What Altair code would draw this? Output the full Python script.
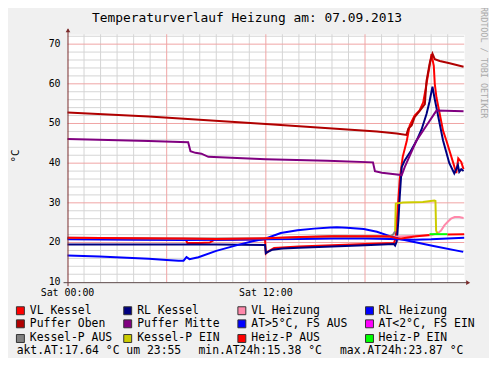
import altair as alt
import pandas as pd

FONT = "DejaVu Sans Mono"

title_text = "Temperaturverlauf Heizung am: 07.09.2013"
y_title = "°C"
watermark = "RRDTOOL / TOBI OETIKER"

legend_labels = ["VL Kessel", "RL Kessel", "VL Heizung", "RL Heizung",
                 "Puffer Oben", "Puffer Mitte", "AT>5°C, FS AUS", "AT<2°C, FS EIN",
                 "Kessel-P AUS", "Kessel-P EIN", "Heiz-P AUS", "Heiz-P EIN"]
legend_colors = ["#ff0000", "#000080", "#ff88aa", "#0000ff",
                 "#b00000", "#800080", "#0000ff", "#ff00ff",
                 "#808080", "#cccc00", "#ff0000", "#00ff00"]

stats_labels = ["akt.AT:17.64 °C um 23:55", "min.AT24h:15.38 °C", "max.AT24h:23.87 °C"]

x_tick_values = [0, 12]
x_tick_labels = ["Sat 00:00", "Sat 12:00"]
y_tick_values = [10, 20, 30, 40, 50, 60, 70]

# ---- series (hours since 00:00, °C) ----
vl_kessel_h = [0, 3, 7.15, 7.25, 8.0, 8.6, 8.9, 11.95, 12.0, 12.15, 12.5, 14, 16, 18, 19.75,
               19.85, 20.1, 20.28, 20.52, 20.7, 21.0, 21.3, 21.52, 21.72, 21.92, 22.02, 22.16,
               22.22, 22.32, 22.52, 22.72, 22.92, 23.34, 23.52, 23.64, 23.82, 23.96]
vl_kessel_v = [21.0, 21.0, 20.8, 19.9, 19.9, 20.0, 20.7, 20.8, 17.2, 17.8, 18.6, 19.0, 19.3, 19.6, 19.9,
               21.0, 36.0, 41.6, 45.5, 49.5, 52.0, 53.3, 55.3, 60.0, 64.9, 67.5, 64.5,
               60.0, 56.6, 52.4, 48.2, 45.7, 40.0, 37.5, 41.2, 40.3, 38.5]

rl_kessel_h = [0, 4, 7, 9, 11.95, 12.0, 12.1, 12.4, 13, 14, 16, 18, 19.75, 19.82, 19.92, 20.02,
               20.1, 20.22, 20.4, 20.76, 21.12, 21.42, 21.72, 21.9, 22.08, 22.2, 22.32, 22.72,
               23.1, 23.4, 23.52, 23.62, 23.7, 23.82, 23.96]
rl_kessel_v = [19.5, 19.5, 19.5, 19.5, 19.4, 17.3, 17.6, 18.2, 18.5, 18.7, 19.0, 19.3, 19.6, 19.25, 20.3, 25.7,
               31.6, 39.0, 40.7, 43.0, 45.7, 48.5, 52.4, 55.5, 59.3, 56.5, 54.0, 45.7,
               40.0, 37.4, 38.5, 39.5, 37.8, 38.5, 38.0]

vl_heizung_h = [0, 6, 12, 18, 22.0, 22.42, 22.6, 22.8, 23.02, 23.2, 23.42, 23.7, 23.96]
vl_heizung_v = [20.9, 20.8, 20.9, 21.2, 21.8, 22.4, 23.0, 24.3, 25.3, 26.0, 26.4, 26.4, 26.2]

rl_heizung_h = [0, 4, 7, 10, 12, 14, 16, 18, 19.5, 20, 21, 22, 23, 24]
rl_heizung_v = [20.8, 20.7, 20.6, 20.7, 20.8, 20.9, 21.0, 21.0, 20.9, 20.8, 20.7, 20.8, 21.0, 21.2]

puffer_oben_h = [0, 4.92, 12, 18.72, 19.92, 20.5, 20.62, 20.82, 21.0, 21.32, 21.62, 21.72, 21.92,
                 22.08, 22.22, 22.52, 23.12, 23.96]
puffer_oben_v = [52.8, 51.75, 49.9, 48.0, 47.5, 47.1, 48.7, 49.5, 51.6, 53.25, 54.9, 60.75, 65.3,
                 67.6, 66.2, 65.75, 65.2, 64.3]

puffer_mitte_h = [0, 4.92, 7.3, 7.44, 7.74, 8.1, 8.52, 12, 15.72, 18.48, 18.6, 19.02, 19.8, 20.22,
                  20.4, 21.12, 21.72, 22.32, 23.96]
puffer_mitte_v = [46.1, 45.6, 45.3, 43.0, 42.6, 42.4, 41.6, 41.0, 40.6, 40.2, 38.0, 37.6, 37.2, 37.0,
                  39.0, 45.75, 49.5, 53.25, 53.1]

at_h = [0, 1.92, 4.92, 6, 6.72, 7.02, 7.2, 7.38, 7.92, 9, 10.32, 11.2, 12, 12.9, 13.92, 14.92,
        15.9, 16.3, 16.9, 17.92, 18.72, 19.5, 20.1, 21.12, 22.14, 23.94]
at_v = [16.7, 16.5, 15.9, 15.6, 15.4, 15.4, 16.3, 15.8, 16.3, 17.9, 19.4, 20.3, 21.0, 22.4, 23.1, 23.5,
        23.8, 23.87, 23.7, 23.4, 22.7, 21.6, 20.9, 20.0, 19.1, 17.64]

kessel_p_aus_h = [0, 6, 12, 16, 19.5, 19.7, 19.82]
kessel_p_aus_v = [21.2, 21.0, 21.1, 21.6, 21.5, 22.0, 22.8]

kessel_p_ein_h = [19.82, 19.86, 20.3, 21.5, 22.2, 22.26, 22.3, 22.4]
kessel_p_ein_v = [22.8, 29.8, 30.1, 30.2, 30.6, 30.5, 23.0, 22.2]

heiz_p_aus_h = [0, 4, 7, 9, 12, 14, 16, 19, 19.5, 19.9, 20.2, 21.0, 21.9]
heiz_p_aus_v = [21.2, 21.1, 21.0, 20.9, 21.1, 21.4, 21.6, 21.6, 21.5, 21.1, 21.0, 21.5, 21.9]
heiz_p_aus2_h = [22.98, 24]
heiz_p_aus2_v = [22.0, 22.1]

heiz_p_ein_h = [21.9, 22.98]
heiz_p_ein_v = [22.1, 22.1]

# ---- layout constants (pixels, relative to plot origin) ----
W, H = 400, 250
legend_col_box = [-47.5, 60.7, 175.8, 304.5]
legend_col_text = [-38, 70.3, 185.3, 313.7]
legend_row_y = [278.8, 292.0, 306.8]
stats_x = [-51.3, 132, 274.7]
stats_y = 319.7

xs = alt.Scale(domain=[0, 24], nice=False, zero=False)
ys = alt.Scale(domain=[10, 72.5], nice=False, zero=False)

MINOR = "#d4d4d4"
MAJOR = "#f0a4a4"
AXC = "#7a2a2a"


def line(hours, values, color):
    df = pd.DataFrame({"h": hours, "v": values})
    return alt.Chart(df).mark_line(color=color, strokeWidth=2, interpolate="linear").encode(
        x=alt.X("h:Q", scale=xs, axis=None),
        y=alt.Y("v:Q", scale=ys, axis=None),
    )


minor_x = pd.DataFrame({"h": [float(h) for h in range(1, 24) if h % 6 != 0]})
major_x = pd.DataFrame({"h": [6.0, 12.0, 18.0]})
minor_y = pd.DataFrame({"v": [float(v) for v in range(12, 73, 2) if v % 10 != 0]})
major_y = pd.DataFrame({"v": [20.0, 30.0, 40.0, 50.0, 60.0, 70.0]})


def vgrid(df, color):
    return alt.Chart(df).mark_rule(color=color, strokeWidth=1, opacity=1).encode(
        x=alt.X("h:Q", scale=xs, axis=None), y=alt.value(0), y2=alt.value(H))


def hgrid(df, color):
    return alt.Chart(df).mark_rule(color=color, strokeWidth=1, opacity=1).encode(
        y=alt.Y("v:Q", scale=ys, axis=None), x=alt.value(0), x2=alt.value(W))


g_minor_x = vgrid(minor_x, MINOR)
g_minor_y = hgrid(minor_y, MINOR)
g_major_x = vgrid(major_x, MAJOR)
g_major_y = hgrid(major_y, MAJOR)

# tick labels as text marks positioned through the data scales
ytick_df = pd.DataFrame({"v": y_tick_values, "lab": [str(v) for v in y_tick_values]})
ytick_text = alt.Chart(ytick_df).mark_text(align="right", baseline="middle", font=FONT, fontSize=10,
                                           color="#000000").encode(
    x=alt.value(-7), y=alt.Y("v:Q", scale=ys, axis=None), text="lab:N")
xtick_df = pd.DataFrame({"h": x_tick_values, "lab": x_tick_labels})
xtick_text = alt.Chart(xtick_df).mark_text(align="center", baseline="middle", font=FONT, fontSize=10,
                                           color="#000000").encode(
    x=alt.X("h:Q", scale=xs, axis=None), y=alt.value(261), text="lab:N")

one = pd.DataFrame({"t": [0]})
y_axis_line = alt.Chart(one).mark_rule(color=AXC, strokeWidth=1).encode(
    x=alt.value(0.5), y=alt.value(-5), y2=alt.value(254))
x_axis_line = alt.Chart(one).mark_rule(color="#5a4848", strokeWidth=1).encode(
    x=alt.value(-4), x2=alt.value(403), y=alt.value(250.5))
y_arrow = alt.Chart(one).mark_point(shape="triangle-up", filled=True, color=AXC, size=22, opacity=1).encode(
    x=alt.value(0.5), y=alt.value(-4))
x_arrow = alt.Chart(one).mark_point(shape="triangle-right", filled=True, color=AXC, size=22, opacity=1).encode(
    x=alt.value(404), y=alt.value(250.5))

series_layers = [
    line(vl_kessel_h, vl_kessel_v, legend_colors[0]),
    line(rl_kessel_h, rl_kessel_v, legend_colors[1]),
    line(vl_heizung_h, vl_heizung_v, legend_colors[2]),
    line(rl_heizung_h, rl_heizung_v, legend_colors[3]),
    line(puffer_oben_h, puffer_oben_v, legend_colors[4]),
    line(puffer_mitte_h, puffer_mitte_v, legend_colors[5]),
    line(at_h, at_v, legend_colors[6]),
    line(kessel_p_aus_h, kessel_p_aus_v, legend_colors[8]),
    line(kessel_p_ein_h, kessel_p_ein_v, legend_colors[9]),
    line(heiz_p_aus_h, heiz_p_aus_v, legend_colors[10]),
    line(heiz_p_aus2_h, heiz_p_aus2_v, legend_colors[10]),
    line(heiz_p_ein_h, heiz_p_ein_v, legend_colors[11]),
]

# legend
leg = pd.DataFrame({
    "label": legend_labels,
    "color": legend_colors,
    "bx": [legend_col_box[i % 4] for i in range(len(legend_labels))],
    "tx": [legend_col_text[i % 4] for i in range(len(legend_labels))],
    "py": [legend_row_y[i // 4] for i in range(len(legend_labels))],
})
leg_boxes = alt.Chart(leg).mark_square(size=64, stroke="#333333", strokeWidth=1, opacity=1).encode(
    x=alt.X("bx:Q", scale=None, axis=None),
    y=alt.Y("py:Q", scale=None, axis=None),
    fill=alt.Fill("color:N", scale=None),
)
leg_text = alt.Chart(leg).mark_text(align="left", baseline="middle", font=FONT, fontSize=11.5,
                                    color="#000000").encode(
    x=alt.X("tx:Q", scale=None, axis=None),
    y=alt.Y("py:Q", scale=None, axis=None),
    text="label:N",
)
stats = pd.DataFrame({"label": stats_labels, "sx": stats_x, "sy": [stats_y] * len(stats_labels)})
stats_text = alt.Chart(stats).mark_text(align="left", baseline="middle", font=FONT, fontSize=11.5,
                                        color="#000000").encode(
    x=alt.X("sx:Q", scale=None, axis=None),
    y=alt.Y("sy:Q", scale=None, axis=None),
    text="label:N",
)

title_df = pd.DataFrame({"t": [title_text]})
title_mark = alt.Chart(title_df).mark_text(align="center", baseline="middle", font=FONT, fontSize=13,
                                           color="#000000").encode(
    x=alt.value(181), y=alt.value(-16), text="t:N")
ytitle_df = pd.DataFrame({"t": [y_title]})
ytitle_mark = alt.Chart(ytitle_df).mark_text(align="center", baseline="middle", font=FONT, fontSize=11,
                                             angle=270, color="#000000").encode(
    x=alt.value(-52), y=alt.value(122.8), text="t:N")
wm_df = pd.DataFrame({"t": [watermark]})
wm_mark = alt.Chart(wm_df).mark_text(align="center", baseline="middle", font=FONT, fontSize=8.5,
                                     angle=90, color="#aaaaaa").encode(
    x=alt.value(420), y=alt.value(28.7), text="t:N")

chart = alt.layer(
    g_minor_x, g_minor_y, g_major_x, g_major_y,
    *series_layers,
    y_axis_line, x_axis_line, y_arrow, x_arrow, ytick_text, xtick_text,
    leg_boxes, leg_text, stats_text, title_mark, ytitle_mark, wm_mark,
).properties(
    width=W, height=H,
    autosize=alt.AutoSizeParams(type="none"),
    padding={"left": 60, "top": 25, "right": 25, "bottom": 75},
    background="#f0f0f0",
).configure_view(fill="white", stroke="transparent")

chart.save("out.html", embed_options={"renderer": "svg", "actions": False})
